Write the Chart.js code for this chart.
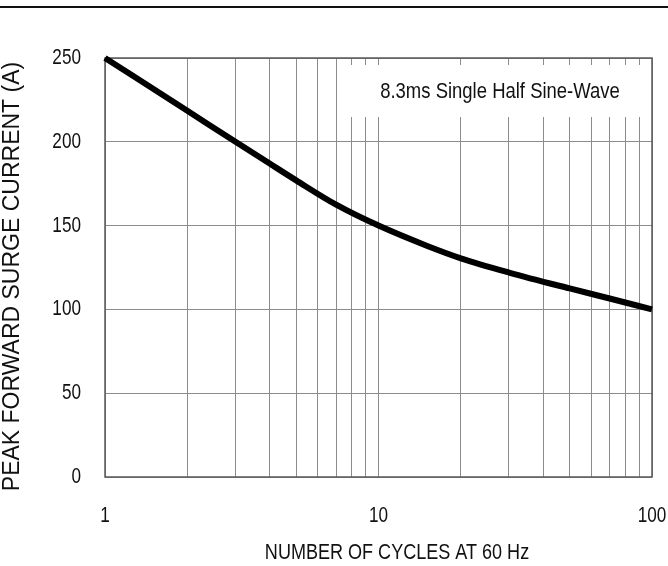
<!DOCTYPE html>
<html>
<head>
<meta charset="utf-8">
<script src="https://cdn.jsdelivr.net/npm/chart.js@4.4.1/dist/chart.umd.min.js"></script>
<style>
  html, body { margin: 0; padding: 0; background: #ffffff; }
  #wrap { position: relative; width: 668px; height: 566px; }
  canvas { display: block; }
</style>
</head>
<body>
<div id="wrap"><canvas id="c" width="668" height="566"></canvas></div>
<script>
// ---- data ----
const cycles  = [1, 2, 3, 4, 5, 7, 10, 15, 20, 30, 50, 70, 100];
const current = [250, 218.5, 200, 187, 177, 162.5, 150, 138, 130.5, 122, 112.5, 106.5, 100];
const xGridValues = [1, 2, 3, 4, 5, 6, 7, 8, 9, 10, 20, 30, 40, 50, 60, 70, 80, 90, 100];
const xTickLabels = [1, 10, 100];
const yTickValues = [0, 50, 100, 150, 200, 250];
const xTitle = 'NUMBER OF CYCLES AT 60 Hz';
const yTitle = 'PEAK FORWARD SURGE CURRENT (A)';
const noteText = '8.3ms Single Half Sine-Wave';

const FONT = "'Liberation Sans', Arial, sans-serif";
const TEXT_COLOR = '#111111';

// draws text horizontally condensed (the reference uses a narrow face)
function narrowText(ctx, text, x, y, align, size, sx, rot) {
  ctx.save();
  ctx.translate(x, y);
  if (rot) ctx.rotate(rot);
  ctx.scale(sx, 1);
  ctx.font = size + 'px ' + FONT;
  ctx.fillStyle = TEXT_COLOR;
  ctx.textAlign = align;
  ctx.textBaseline = 'middle';
  ctx.fillText(text, 0, 0);
  ctx.restore();
}

const decor = {
  id: 'decor',
  beforeDatasetsDraw(chart) {
    const { ctx, chartArea: a } = chart;
    ctx.save();
    // note box (white, hides grid)
    const bx = 346, by = a.top + 7, bw = a.right - 4 - 346, bh = 52;
    ctx.fillStyle = '#ffffff';
    ctx.fillRect(bx, by, bw, bh);
    narrowText(ctx, noteText, bx + bw / 2 + 3, by + bh / 2 + 1, 'center', 22, 0.84);
    // plot frame
    ctx.strokeStyle = '#5a5a5a';
    ctx.lineWidth = 1.5;
    ctx.strokeRect(a.left, a.top, a.right - a.left, a.bottom - a.top);
    ctx.restore();
  },
  afterDraw(chart) {
    const { ctx, width, chartArea: a, scales } = chart;
    // tick labels positioned by the library's scales
    scales.y.ticks.forEach(t => {
      narrowText(ctx, String(t.value), a.left - 24, scales.y.getPixelForValue(t.value), 'right', 22, 0.78);
    });
    xTickLabels.forEach(v => {
      narrowText(ctx, String(v), scales.x.getPixelForValue(v), a.bottom + 39, 'center', 22, 0.78);
    });
    // axis titles
    narrowText(ctx, xTitle, a.left + 292, a.bottom + 76, 'center', 22, 0.82);
    narrowText(ctx, yTitle, 13, (a.top + a.bottom) / 2 + 9, 'center', 23, 1, -Math.PI / 2);
    // top rule
    ctx.save();
    ctx.strokeStyle = '#111111';
    ctx.lineWidth = 2;
    ctx.beginPath();
    ctx.moveTo(0, 7);
    ctx.lineTo(width, 7);
    ctx.stroke();
    ctx.restore();
  }
};

new Chart(document.getElementById('c'), {
  type: 'line',
  data: {
    datasets: [{
      data: cycles.map((c, i) => ({ x: c, y: current[i] })),
      borderColor: '#000000',
      borderWidth: 6,
      pointRadius: 0,
      cubicInterpolationMode: 'monotone',
      fill: false,
      clip: false
    }]
  },
  options: {
    responsive: false,
    animation: false,
    layout: { padding: { left: 0, top: 58, right: 16, bottom: 0 } },
    plugins: { legend: { display: false }, tooltip: { enabled: false } },
    scales: {
      x: {
        type: 'logarithmic',
        min: 1, max: 100,
        afterBuildTicks(scale) { scale.ticks = xGridValues.map(v => ({ value: v })); },
        afterFit(scale) { scale.height = 89; },
        ticks: { display: false, autoSkip: false, maxRotation: 0 },
        grid: { color: '#8c8c8c', lineWidth: 1, drawTicks: false },
        border: { display: false }
      },
      y: {
        type: 'linear',
        min: 0, max: 250,
        afterBuildTicks(scale) { scale.ticks = yTickValues.map(v => ({ value: v })); },
        afterFit(scale) { scale.width = 105; },
        ticks: { display: false },
        grid: { color: '#8c8c8c', lineWidth: 1, drawTicks: false },
        border: { display: false }
      }
    }
  },
  plugins: [decor]
});
</script>
</body>
</html>
